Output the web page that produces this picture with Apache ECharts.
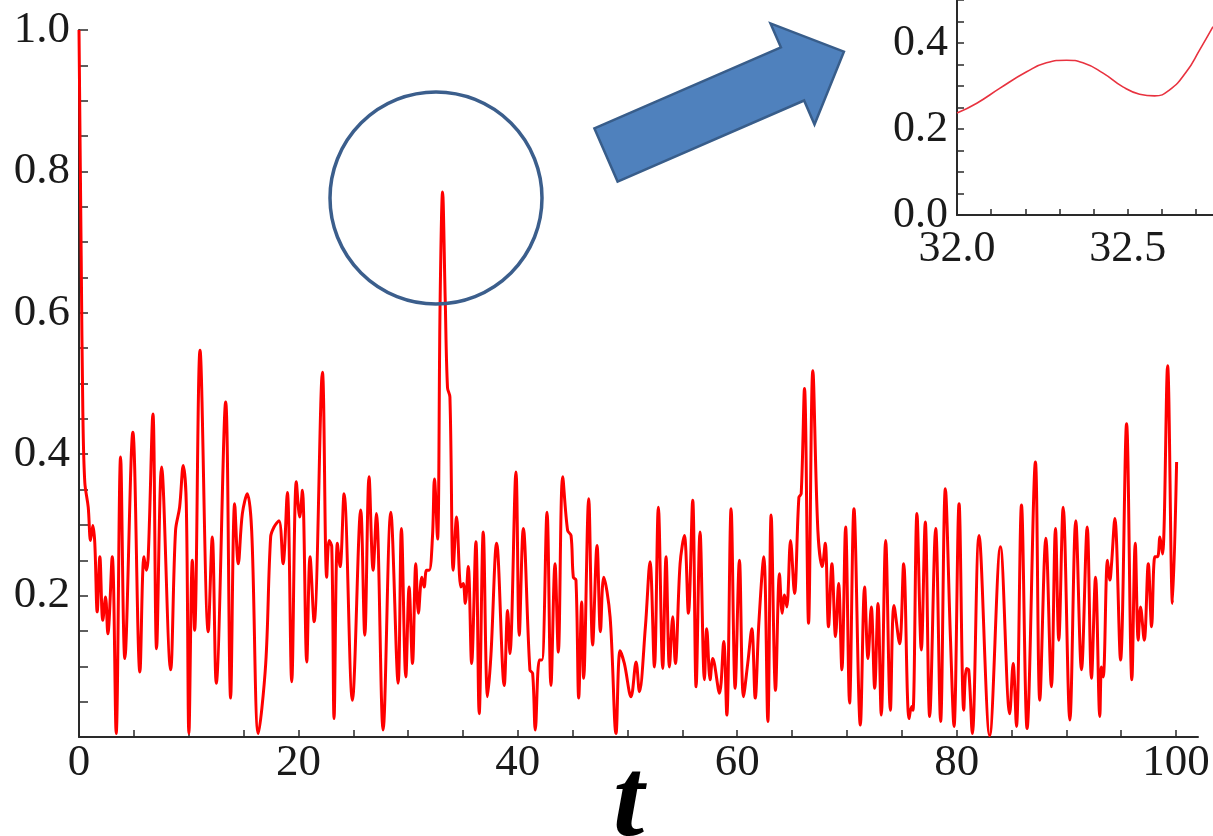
<!DOCTYPE html>
<html><head><meta charset="utf-8">
<script src="https://cdn.jsdelivr.net/npm/echarts@6/dist/echarts.min.js"></script>
<style>html,body{margin:0;padding:0;background:#fff;}#chart{width:1213px;height:836px;}</style>
</head><body><div id="chart"></div>
<script>
// ---- main series: time t and value ----
const times = [0,0.2,0.35,0.53,0.84,1.05,1.26,1.44,1.66,1.90,2.17,2.42,2.63,3.03,3.39,3.79,4.18,4.91,5.55,5.92,6.13,6.31,6.74,7.07,7.53,8.35,8.80,9.17,9.50,9.78,10.02,10.33,10.54,11.03,11.78,12.15,12.51,13.37,13.82,14.19,14.52,14.89,15.34,15.74,16.35,17.02,17.47,17.78,18.23,18.60,18.99,19.39,19.81,20.12,20.36,20.76,21.06,21.43,22.19,22.58,22.80,23.04,23.25,23.55,23.80,24.16,24.92,25.68,26.05,26.44,26.81,27.11,27.72,28.42,29.09,29.39,29.79,30.09,30.40,30.70,30.94,31.25,31.46,31.68,31.92,32.22,32.40,32.68,32.92,33.14,33.38,33.59,33.81,34.11,34.42,34.81,35.02,35.21,35.48,35.79,36.18,36.48,36.85,37.24,37.55,38.07,38.76,39.07,39.28,39.83,40.13,40.50,41.10,41.35,41.59,41.96,42.20,42.66,43.02,43.39,43.69,44.09,44.54,44.85,45.06,45.30,45.55,45.82,46.00,46.46,46.82,47.22,47.53,47.83,48.41,48.95,49.32,49.71,50.32,50.78,51.08,51.63,52.05,52.45,52.81,53.21,53.51,53.82,54.12,54.36,54.79,55.18,55.55,55.94,56.25,56.61,57.01,57.22,57.53,57.77,58.38,58.77,59.05,59.44,59.81,60.20,60.57,60.97,61.33,61.64,61.97,62.42,62.79,63.09,63.49,63.85,64.10,64.31,64.52,64.86,65.22,65.62,65.83,66.13,66.50,66.89,67.35,67.75,68.02,68.32,68.63,68.96,69.24,69.54,69.88,70.24,70.64,71.22,71.61,71.92,72.22,72.53,72.83,73.13,73.53,73.96,74.29,74.80,75.17,75.66,75.90,76.02,76.38,76.78,77.14,77.54,78.09,78.54,78.97,79.43,79.76,80.22,80.65,80.89,81.10,81.43,82.04,83.01,83.99,84.84,85.15,85.45,85.91,86.42,87.18,87.58,88.13,88.64,89.01,89.31,89.71,90.32,90.86,91.38,91.90,92.29,92.66,93.05,93.20,93.36,93.75,93.97,94.12,94.42,94.94,95.49,95.97,96.28,96.55,96.76,97.10,97.47,97.77,98.07,98.32,98.53,98.77,99.23,99.68,100.05];
const values = [1.0,0.68,0.46,0.36,0.325,0.278,0.299,0.274,0.177,0.255,0.165,0.198,0.146,0.255,0.005,0.396,0.111,0.431,0.092,0.255,0.236,0.255,0.457,0.125,0.382,0.095,0.292,0.325,0.384,0.330,0.005,0.250,0.151,0.547,0.149,0.283,0.076,0.474,0.055,0.330,0.245,0.316,0.344,0.292,0.005,0.104,0.283,0.297,0.306,0.245,0.346,0.078,0.361,0.311,0.349,0.106,0.255,0.163,0.516,0.226,0.278,0.269,0.026,0.274,0.241,0.344,0.052,0.321,0.144,0.368,0.236,0.316,0.010,0.318,0.076,0.295,0.085,0.212,0.104,0.245,0.175,0.226,0.212,0.236,0.236,0.283,0.365,0.280,0.620,0.771,0.620,0.494,0.481,0.236,0.311,0.212,0.217,0.189,0.241,0.104,0.276,0.033,0.290,0.057,0.116,0.274,0.073,0.179,0.118,0.375,0.144,0.295,0.095,0.090,0.010,0.109,0.109,0.318,0.073,0.245,0.120,0.368,0.292,0.285,0.226,0.222,0.055,0.191,0.083,0.337,0.130,0.271,0.149,0.226,0.170,0.005,0.122,0.104,0.057,0.106,0.064,0.156,0.248,0.099,0.325,0.097,0.255,0.099,0.170,0.104,0.245,0.285,0.175,0.335,0.071,0.290,0.081,0.153,0.081,0.111,0.062,0.135,0.031,0.323,0.069,0.250,0.057,0.106,0.153,0.055,0.161,0.255,0.022,0.314,0.066,0.231,0.175,0.201,0.184,0.278,0.203,0.339,0.344,0.493,0.161,0.518,0.292,0.241,0.274,0.156,0.245,0.142,0.217,0.095,0.297,0.048,0.323,0.017,0.212,0.111,0.184,0.069,0.189,0.031,0.278,0.038,0.186,0.132,0.245,0.026,0.043,0.038,0.316,0.123,0.304,0.029,0.295,0.022,0.351,0.142,0.015,0.330,0.038,0.097,0.095,0.005,0.285,0.002,0.269,0.033,0.104,0.015,0.328,0.012,0.389,0.052,0.281,0.071,0.295,0.137,0.325,0.024,0.306,0.095,0.297,0.083,0.226,0.029,0.099,0.085,0.250,0.222,0.245,0.309,0.109,0.443,0.081,0.274,0.137,0.184,0.137,0.245,0.156,0.255,0.255,0.283,0.259,0.525,0.189,0.389];
const xTickLabels = [0, 20, 40, 60, 80, 100];
const yTickLabels = [0.2, 0.4, 0.6, 0.8, 1.0];

// ---- inset (zoom on 32.0 - 32.75) ----
const insetTimes = [32.0,32.058,32.126,32.204,32.262,32.321,32.369,32.428,32.486,32.535,32.579,32.623,32.672,32.711,32.75];
const insetValues = [0.237,0.260,0.295,0.333,0.354,0.360,0.354,0.330,0.298,0.281,0.277,0.291,0.333,0.384,0.438];
const insetXTickLabels = [32.0, 32.5];
const insetYTickLabels = [0.0, 0.2, 0.4];

function steps(a, b, n) { const r = []; for (let i = 0; i <= n; i++) r.push(a + (b - a) * i / n); return r; }
function zip(a, b) { return a.map((x, i) => [x, b[i]]); }

const serif = 'Liberation Serif';
const axisCol = '#2a2a2a';
const labelStyle = (size) => ({ fontFamily: serif, fontSize: size, color: '#1a1a1a' });

const chart = echarts.init(document.getElementById('chart'), null, { renderer: 'canvas' });
const option = {
  backgroundColor: '#ffffff',
  animation: false,
  grid: [
    { left: 79, right: 15, top: 30, bottom: 99, containLabel: false, outerBoundsMode: 'none' },
    { left: 957, right: 0, top: 0, bottom: 621, containLabel: false, outerBoundsMode: 'none' }
  ],
  xAxis: [
    {
      type: 'value', gridIndex: 0, min: 0, max: 102,
      axisLine: { show: true, onZero: false, lineStyle: { color: axisCol, width: 2 } },
      axisTick: { show: true, inside: true, length: 7, customValues: steps(0, 100, 20), lineStyle: { color: axisCol, width: 1.5 } },
      axisLabel: Object.assign({ customValues: xTickLabels, margin: 4, formatter: v => String(Math.round(v)) }, labelStyle(45)),
      splitLine: { show: false },
      name: 't', nameLocation: 'middle', nameGap: 13, nameMoveOverlap: false,
      nameTextStyle: { fontFamily: serif, fontSize: 112, fontWeight: 'bold', fontStyle: 'italic', color: '#000', padding: [0, 20, 0, 0], verticalAlign: 'top' }
    },
    {
      type: 'value', gridIndex: 1, min: 32, max: 32.75,
      axisLine: { show: true, onZero: false, lineStyle: { color: axisCol, width: 2 } },
      axisTick: { show: true, inside: true, length: 6, customValues: steps(32, 32.7, 7), lineStyle: { color: axisCol, width: 1.5 } },
      axisLabel: Object.assign({ customValues: insetXTickLabels, margin: 12, formatter: v => v.toFixed(1) }, labelStyle(44)),
      splitLine: { show: false }
    }
  ],
  yAxis: [
    {
      type: 'value', gridIndex: 0, min: 0, max: 1,
      axisLine: { show: true, onZero: false, lineStyle: { color: axisCol, width: 2 } },
      axisTick: { show: true, inside: true, length: 9, customValues: steps(0, 1, 20), lineStyle: { color: axisCol, width: 1.5 } },
      axisLabel: Object.assign({ customValues: yTickLabels, margin: 9, formatter: v => v.toFixed(1) }, labelStyle(45)),
      splitLine: { show: false }
    },
    {
      type: 'value', gridIndex: 1, min: 0, max: 0.5,
      axisLine: { show: true, onZero: false, lineStyle: { color: axisCol, width: 2 } },
      axisTick: { show: true, inside: true, length: 7, customValues: steps(0, 0.5, 10), lineStyle: { color: axisCol, width: 1.5 } },
      axisLabel: Object.assign({ customValues: insetYTickLabels, margin: 9, formatter: v => v.toFixed(1) }, labelStyle(44)),
      splitLine: { show: false }
    }
  ],
  series: [
    {
      type: 'line', xAxisIndex: 0, yAxisIndex: 0, data: zip(times, values),
      showSymbol: false, smooth: 0.35, clip: true,
      lineStyle: { color: '#ff0000', width: 3 }
    },
    {
      type: 'line', xAxisIndex: 1, yAxisIndex: 1, data: zip(insetTimes, insetValues),
      showSymbol: false, smooth: 0.5, clip: true,
      lineStyle: { color: '#e8323f', width: 1.6 }
    }
  ],
  graphic: [
    {
      type: 'circle', shape: { cx: 436, cy: 198, r: 106 },
      style: { fill: 'none', stroke: '#3b5e8c', lineWidth: 3.5 }, z: 10
    },
    {
      type: 'polygon',
      shape: { points: [[594.4,128.4],[780.9,47.3],[770.5,23.4],[843.9,51.6],[814.5,124.4],[804.1,100.5],[617.6,181.6]] },
      style: { fill: '#4f81bd', stroke: '#385d8a', lineWidth: 2.5 }, z: 10
    }
  ]
};
chart.setOption(option);
</script>
</body></html>
